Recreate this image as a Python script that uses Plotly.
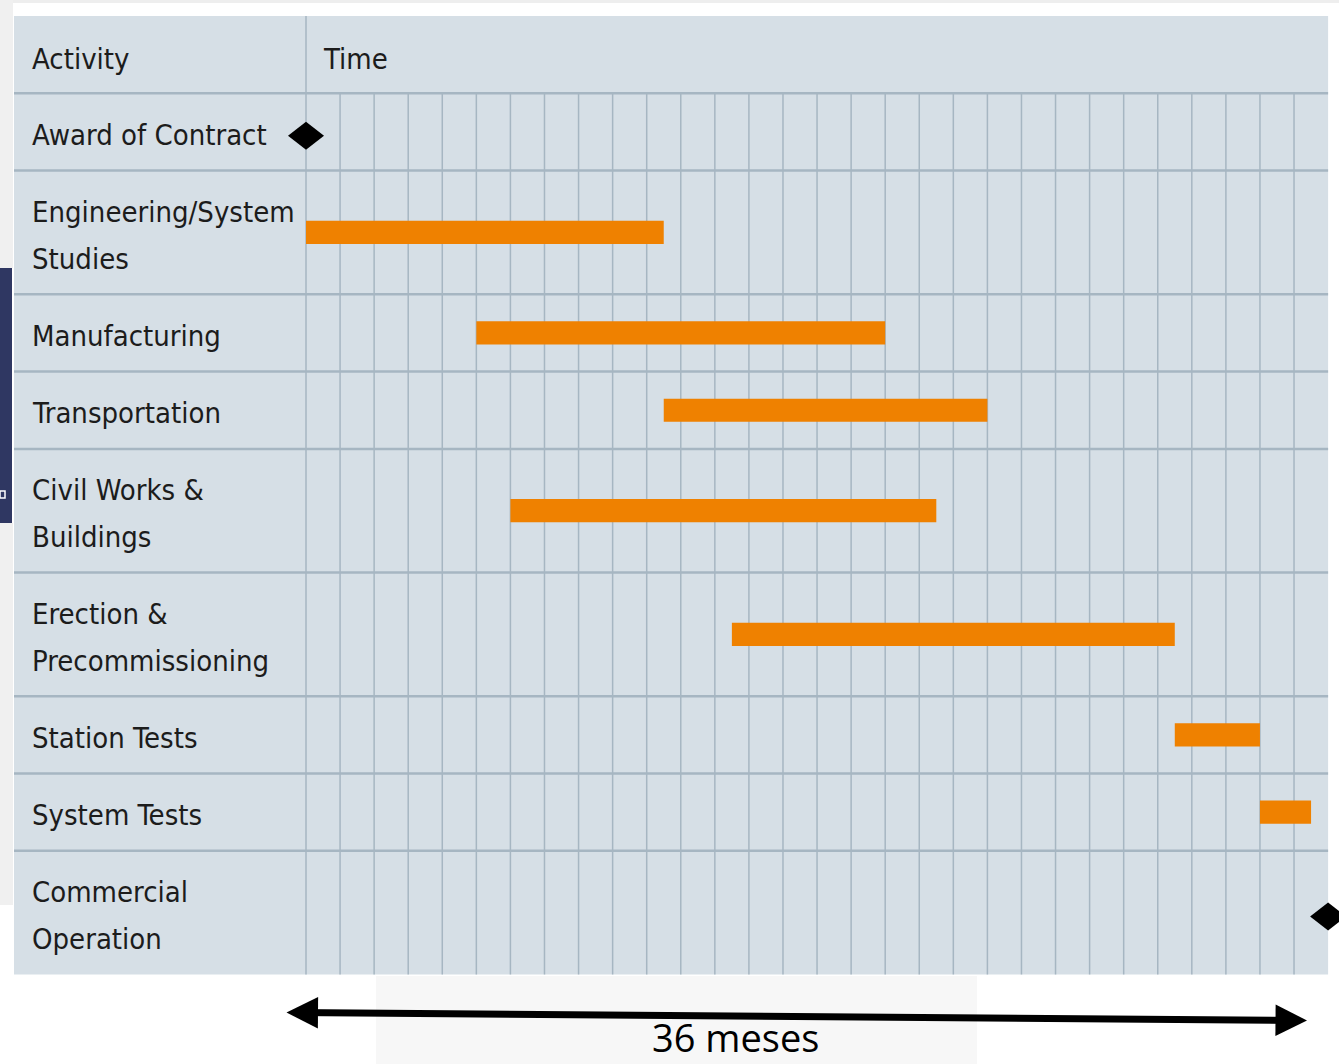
import plotly.graph_objects as go

# ---- data -------------------------------------------------------------
activities = [
    "Award of Contract",
    "Engineering/System\nStudies",
    "Manufacturing",
    "Transportation",
    "Civil Works &\nBuildings",
    "Erection &\nPrecommissioning",
    "Station Tests",
    "System Tests",
    "Commercial\nOperation",
]
# time measured in grid columns (30 columns cover the 36-month span)
bar_start = [None, 0, 5, 10.5, 6, 12.5, 25.5, 28, None]
bar_end = [None, 10.5, 17, 20, 18.5, 25.5, 28, 29.5, None]
milestone_at = [0, None, None, None, None, None, None, None, 30]
n_cols = 30
header_labels = ["Activity", "Time"]
span_label = "36 meses"

# ---- layout constants -------------------------------------------------
W, H = 1339, 1064
COL_PX, ROW_PX = 34.07, 77.3          # pixels per column / per unit row
X0_PX, Y0_PX = 306, 16               # pixel position of time origin / panel top
LEFT_COL = (14 - X0_PX) / COL_PX     # left edge of activity column

panel_bg = "#d6dfe6"
grid_col = "#a6b6c2"
bar_col = "#ef8100"
text_col = "#1c1c1c"
label_font = "DejaVu Sans Condensed, Liberation Sans Narrow, sans-serif"

# row geometry (header row + one row per activity, two-line rows are taller)
lines = [a.split("\n") for a in activities]
heights = [1 + 0.6 * (len(l) - 1) for l in lines]
bounds = [0, 1]
for h in heights:
    bounds.append(bounds[-1] + h)
centers = [(bounds[i + 1] + bounds[i + 2]) / 2 for i in range(len(activities))]
panel_bottom = bounds[-1]

fig = go.Figure()

# bars
bi = [i for i, s in enumerate(bar_start) if s is not None]
fig.add_trace(go.Bar(
    orientation="h",
    y=[centers[i] for i in bi],
    base=[bar_start[i] for i in bi],
    x=[bar_end[i] - bar_start[i] for i in bi],
    width=0.3,
    marker=dict(color=bar_col, line=dict(width=0)),
    hoverinfo="skip",
    showlegend=False,
))

shapes = []
# page decorations
def prect(x0, y0, x1, y1, color, **kw):
    shapes.append(dict(type="rect", xref="paper", yref="paper",
                       x0=x0 / W, x1=x1 / W, y0=1 - y0 / H, y1=1 - y1 / H,
                       fillcolor=color, line=dict(width=0), layer="below", **kw))

prect(0, 0, W, 3, "#eeeeee")
prect(0, 0, 13, 268, "#f0f0f0")
prect(0, 523, 13, 905, "#f0f0f0")
prect(0, 268, 12, 523, "#2f3762")
prect(376, 976, 977, H, "#f7f7f7")
shapes.append(dict(type="rect", xref="paper", yref="paper", x0=0, x1=5 / W,
                   y0=1 - 491 / H, y1=1 - 498 / H, line=dict(color="white", width=1.5),
                   layer="below"))

# panel
shapes.append(dict(type="rect", x0=LEFT_COL, x1=n_cols, y0=0, y1=panel_bottom,
                   fillcolor=panel_bg, line=dict(width=0), layer="below"))
# vertical grid
for c in range(1, n_cols):
    shapes.append(dict(type="line", x0=c, x1=c, y0=1, y1=panel_bottom,
                       line=dict(color=grid_col, width=1.5), layer="below"))
shapes.append(dict(type="line", x0=0, x1=0, y0=0, y1=panel_bottom,
                   line=dict(color=grid_col, width=1.5), layer="below"))
# horizontal grid
for b in bounds[1:-1]:
    shapes.append(dict(type="line", x0=LEFT_COL, x1=n_cols, y0=b, y1=b,
                       line=dict(color=grid_col, width=2.5), layer="below"))
# milestones
for i, m in enumerate(milestone_at):
    if m is None:
        continue
    shapes.append(dict(type="path", xsizemode="pixel", ysizemode="pixel",
                       xanchor=m, yanchor=centers[i] + 0.05,
                       path="M-18,0 L0,14 L18,0 L0,-14 Z",
                       fillcolor="black", line=dict(width=0), layer="above"))

annotations = []
lab_x = (30 - X0_PX) / COL_PX
annotations.append(dict(x=lab_x, y=0.53, text=header_labels[0], showarrow=False,
                        xanchor="left", yanchor="middle", yshift=-2))
annotations.append(dict(x=(321 - X0_PX) / COL_PX, y=0.53, text=header_labels[1],
                        showarrow=False, xanchor="left", yanchor="middle", yshift=-2))
for i, ls in enumerate(lines):
    n = len(ls)
    for k, t in enumerate(ls):
        annotations.append(dict(x=lab_x, y=centers[i] + (k - (n - 1) / 2) * 0.61,
                                text=t, showarrow=False, xanchor="left",
                                yanchor="middle", yshift=-3))

# span arrow and label
annotations.append(dict(xref="paper", yref="paper", x=1307 / W, y=1 - 1020.5 / H,
                        ax=285 - 1307, ay=1012.5 - 1020.5, text="", showarrow=True,
                        arrowside="end+start", arrowhead=2, startarrowhead=2,
                        arrowsize=0.9, startarrowsize=0.9, arrowwidth=7,
                        arrowcolor="black", standoff=0, startstandoff=0))
annotations.append(dict(xref="paper", yref="paper", x=735 / W, y=0,
                        text=span_label, showarrow=False, xanchor="center",
                        yanchor="bottom", borderpad=0,
                        font=dict(family="Open Sans, sans-serif", size=38, color="black")))

fig.update_layout(
    width=W, height=H,
    margin=dict(l=0, r=0, t=0, b=0),
    paper_bgcolor="white",
    plot_bgcolor="white",
    showlegend=False,
    font=dict(family=label_font, size=29, color=text_col),
    xaxis=dict(range=[-X0_PX / COL_PX, (W - X0_PX) / COL_PX], visible=False, fixedrange=True),
    yaxis=dict(range=[(H - Y0_PX) / ROW_PX, -Y0_PX / ROW_PX], visible=False, fixedrange=True),
    shapes=shapes,
    annotations=annotations,
)

fig.write_html(
    "out.html",
    config={"displayModeBar": False},
    post_script="document.body.style.margin='0';document.body.style.overflow='hidden';",
)
